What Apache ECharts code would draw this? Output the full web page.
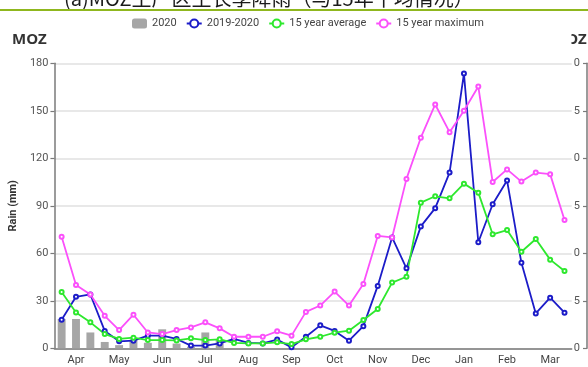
<!DOCTYPE html>
<html>
<head>
<meta charset="utf-8">
<script src="https://cdn.jsdelivr.net/npm/echarts@6/dist/echarts.min.js"></script>
<style>
  html, body { margin: 0; padding: 0; background: #fff; }
  #chart { width: 588px; height: 367px; }
</style>
</head>
<body>
<div id="chart"></div>
<script>
// Dekads from April to March (three per month)
const months = ['Apr', 'May', 'Jun', 'Jul', 'Aug', 'Sep', 'Oct', 'Nov', 'Dec', 'Jan', 'Feb', 'Mar'];
const dekads = months.flatMap(m => [m + '-1', m + '-2', m + '-3']);

// Rainfall per dekad (mm)
const rain2020 = [18.5, 18.5, 10, 4, 2, 5.5, 3.5, 12, 3, 1, 10, 5.5,
  null, null, null, null, null, null, null, null, null, null, null, null,
  null, null, null, null, null, null, null, null, null, null, null, null];
const rain2019_2020 = [18, 32.5, 34, 11, 4.4, 4.8, 8, 8, 5.9, 1.7, 1.7, 3.1,
  5.9, 3.4, 3.1, 5.5, 0.6, 7.3, 14.5, 11, 4.8, 14, 39.4, 70,
  50.5, 77, 88.5, 111, 173.5, 67, 91, 106, 54, 22, 32, 22.5];
const avg15 = [35.5, 22.6, 16.4, 9, 5.9, 6.7, 5.2, 5.2, 5, 6.3, 5.2, 5.7,
  3.4, 3.1, 3.1, 3.8, 2.7, 5.7, 7.3, 9.9, 11.1, 17.9, 24.8, 41.5,
  45.2, 92, 96, 94.7, 104, 98.3, 72, 74.7, 61, 69, 56, 48.8];
const max15 = [70.5, 40, 34, 20.5, 11.5, 21.2, 10, 9, 11.5, 13.2, 16.4, 12.6,
  7.3, 7.3, 7.3, 10.7, 8, 23, 27, 35.8, 27, 40.6, 71, 70,
  107, 133, 154, 136.5, 150, 165.3, 105, 113, 105.3, 111, 110, 81];

// Left rain axis ticks, and the axis of the next panel at the right edge
const rainTicks = { min: 0, max: 180, interval: 30 };
const nextPanelTicks = { min: 0, max: 30, interval: 5 };

const seriesNames = ['2020', '2019-2020', '15 year average', '15 year maximum'];
const colors = { bar: '#a6a6a6', blue: '#1c1cc8', green: '#2ee82e', pink: '#fb50fb' };

const chart = echarts.init(document.getElementById('chart'), null, { renderer: 'canvas' });

const axisGray = '#7a7a7a';
const textFont = 'Roboto, "Noto Sans", sans-serif';

function lineSeries(name, data, color) {
  return {
    name, type: 'line', data,
    xAxisIndex: 0, yAxisIndex: 0,
    symbol: 'emptyCircle', symbolSize: 4,
    lineStyle: { color, width: 1.8 },
    itemStyle: { color, borderWidth: 1 },
    emphasis: { disabled: true },
    animation: false
  };
}

chart.setOption({
  animation: false,
  textStyle: { fontFamily: textFont },
  legend: {
    data: seriesNames,
    left: 127, top: 13,
    itemWidth: 15, itemHeight: 10, itemGap: 9,
    textStyle: { fontSize: 11, color: '#444', fontFamily: textFont }
  },
  grid: [
    { left: 48.3, right: 16.3, top: 63.3, bottom: 18.7 },
    { left: 587, width: 60, top: 63.3, bottom: 18.7 }
  ],
  xAxis: [
    {
      type: 'category', data: dekads, gridIndex: 0, boundaryGap: true,
      axisLine: { lineStyle: { color: axisGray, width: 1.5 } },
      axisTick: { interval: (i) => i % 3 === 0, length: 4, lineStyle: { color: axisGray, width: 1.2 } },
      axisLabel: {
        interval: (i) => i % 3 === 1, margin: 6,
        formatter: (v) => v.split('-')[0],
        fontSize: 11, color: '#444', fontFamily: textFont
      },
      splitLine: { show: false }
    },
    { type: 'category', data: ['a'], gridIndex: 1, show: false }
  ],
  yAxis: [
    {
      type: 'value', gridIndex: 0, ...rainTicks,
      name: 'Rain (mm)', nameLocation: 'middle', nameGap: 27,
      nameTextStyle: { fontSize: 11, fontWeight: 'bold', color: '#333', fontFamily: textFont },
      axisLine: { show: true, lineStyle: { color: axisGray, width: 1.5 } },
      axisTick: { show: true, length: 4, lineStyle: { color: axisGray, width: 1.2 } },
      axisLabel: { fontSize: 11, color: '#555', margin: 6, fontFamily: textFont },
      splitLine: { lineStyle: { color: '#e0e0e0', width: 1.5 } }
    },
    {
      type: 'value', gridIndex: 1, ...nextPanelTicks,
      axisLine: { show: true, lineStyle: { color: axisGray, width: 1.5 } },
      axisTick: { show: true, length: 4, lineStyle: { color: axisGray, width: 1.2 } },
      axisLabel: { fontSize: 11, color: '#555', margin: 7, fontFamily: textFont,
        formatter: (v) => String(v % 10) },
      splitLine: { show: false }
    }
  ],
  series: [
    {
      name: seriesNames[0], type: 'bar', data: rain2020,
      xAxisIndex: 0, yAxisIndex: 0,
      barWidth: '55%',
      itemStyle: { color: colors.bar },
      emphasis: { disabled: true }
    },
    lineSeries(seriesNames[1], rain2019_2020, colors.blue),
    lineSeries(seriesNames[2], avg15, colors.green),
    lineSeries(seriesNames[3], max15, colors.pink),
    { type: 'line', xAxisIndex: 1, yAxisIndex: 1, data: [], silent: true }
  ],
  graphic: [
    {
      type: 'text', left: 64, top: -12,
      style: { text: '(a)MOZ主产区生长季降雨（与15年平均情况）', fontSize: 20,
        fontFamily: '"Noto Sans CJK SC", sans-serif', fill: '#1a1a1a' }
    },
    {
      type: 'rect', shape: { x: 0, y: 9, width: 588, height: 2 },
      style: { fill: '#8fb71e' }
    },
    {
      type: 'text', left: 12, top: 32,
      style: { text: 'MOZ', fontSize: 15, fontWeight: 'bold', fill: '#333',
        fontFamily: '"Open Sans", sans-serif' }
    },
    {
      type: 'text', left: 552, top: 32,
      style: { text: 'MOZ', fontSize: 15, fontWeight: 'bold', fill: '#333',
        fontFamily: '"Open Sans", sans-serif' }
    },
    {
      type: 'rect', shape: { x: 540, y: 28, width: 31.5, height: 24 },
      style: { fill: '#fff' }
    }
  ]
});
</script>
</body>
</html>
